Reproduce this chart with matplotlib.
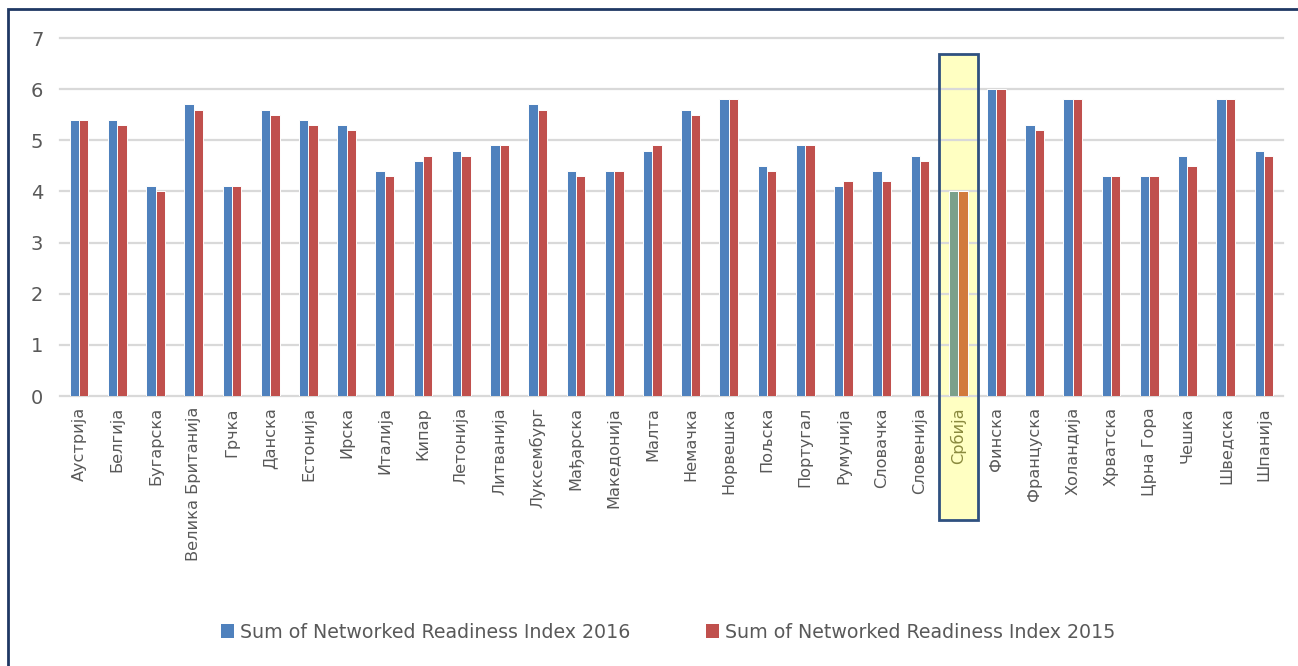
import matplotlib
matplotlib.use("Agg")
import matplotlib.pyplot as plt
from matplotlib.patches import Rectangle, Patch
import numpy as np

countries = ["Аустрија", "Белгија", "Бугарска", "Велика Британија", "Грчка", "Данска",
             "Естонија", "Ирска", "Италија", "Кипар", "Летонија", "Литванија",
             "Луксембург", "Мађарска", "Македонија", "Малта", "Немачка", "Норвешка",
             "Пољска", "Португал", "Румунија", "Словачка", "Словенија", "Србија",
             "Финска", "Француска", "Холандија", "Хрватска", "Црна Гора", "Чешка",
             "Шведска", "Шпанија"]
nri_2016 = [5.4, 5.4, 4.1, 5.7, 4.1, 5.6, 5.4, 5.3, 4.4, 4.6, 4.8, 4.9, 5.7, 4.4, 4.4, 4.8,
            5.6, 5.8, 4.5, 4.9, 4.1, 4.4, 4.7, 4.0, 6.0, 5.3, 5.8, 4.3, 4.3, 4.7, 5.8, 4.8]
nri_2015 = [5.4, 5.3, 4.0, 5.6, 4.1, 5.5, 5.3, 5.2, 4.3, 4.7, 4.7, 4.9, 5.6, 4.3, 4.4, 4.9,
            5.5, 5.8, 4.4, 4.9, 4.2, 4.2, 4.6, 4.0, 6.0, 5.2, 5.8, 4.3, 4.3, 4.5, 5.8, 4.7]
label_2016 = "Sum of Networked Readiness Index 2016"
label_2015 = "Sum of Networked Readiness Index 2015"
highlight = "Србија"

W, H = 1298, 666
fig = plt.figure(figsize=(W / 100, H / 100), dpi=100)
fig.patch.set_facecolor("white")

left, right, y0, y7 = 60, 1283, 396, 38
ax = fig.add_axes([left / W, 1 - y0 / H, (right - left) / W, (y0 - y7) / H])
ax.set_facecolor("none")

x = np.arange(len(countries))
hi = countries.index(highlight)
bw = 0.245
blue, red = "#4F81BD", "#C0504D"
c16 = [blue] * len(x)
c15 = [red] * len(x)
c16[hi] = "#7BA08B"
c15[hi] = "#D27A3C"

# highlight box (fill behind)
box_bottom = -(520 - y0) / ((y0 - y7) / 7)
box_top = (y0 - 54) / ((y0 - y7) / 7)
ax.add_patch(Rectangle((hi - 0.51, box_bottom), 1.02, box_top - box_bottom,
                       facecolor="#FFFFC2", edgecolor="none", clip_on=False, zorder=0))

ax.bar(x - bw / 2, nri_2016, bw, color=c16, edgecolor="white", linewidth=0.7,
       label=label_2016, zorder=3)
ax.bar(x + bw / 2, nri_2015, bw, color=c15, edgecolor="white", linewidth=0.7,
       label=label_2015, zorder=3)

ax.add_patch(Rectangle((hi - 0.51, box_bottom), 1.02, box_top - box_bottom,
                       facecolor="none", edgecolor="#2F5180", linewidth=2.0,
                       clip_on=False, zorder=5))

ax.set_xlim(-0.5, len(x) - 0.5)
ax.set_ylim(0, 7)
ax.set_yticks(range(0, 8))
ax.yaxis.grid(True, color="#D9D9D9", linewidth=1.6, zorder=1)
for gl in ax.get_ygridlines():
    gl.set_clip_on(False)
ax.set_axisbelow(True)
for s in ax.spines.values():
    s.set_visible(False)
ax.tick_params(axis="both", length=0)
ax.tick_params(axis="y", labelsize=14, labelcolor="#595959", pad=12)
ax.set_xticks(x)
ax.set_xticklabels(countries, rotation=90, fontsize=11.6, color="#595959")
ax.tick_params(axis="x", pad=8)
ax.get_xticklabels()[hi].set_color("#8A8A3E")
for t in ax.get_xticklabels():
    t.set_zorder(6)

# legend
handles = [Patch(facecolor=blue), Patch(facecolor=red)]
fig.legend(handles, [label_2016, label_2015], loc="center",
           bbox_to_anchor=(668 / W, 1 - 632 / H), ncol=2, frameon=False,
           fontsize=13.7, labelcolor="#595959", handlelength=0.7, handleheight=0.7,
           handletextpad=0.3, columnspacing=4.0)

# outer frame
fig.patches.append(Rectangle((8 / W, -0.2), 1.2, 1 - 9 / H + 0.2, transform=fig.transFigure,
                             facecolor="none", edgecolor="#1F3864", linewidth=2.0))

fig.savefig("out.png", dpi=100)
